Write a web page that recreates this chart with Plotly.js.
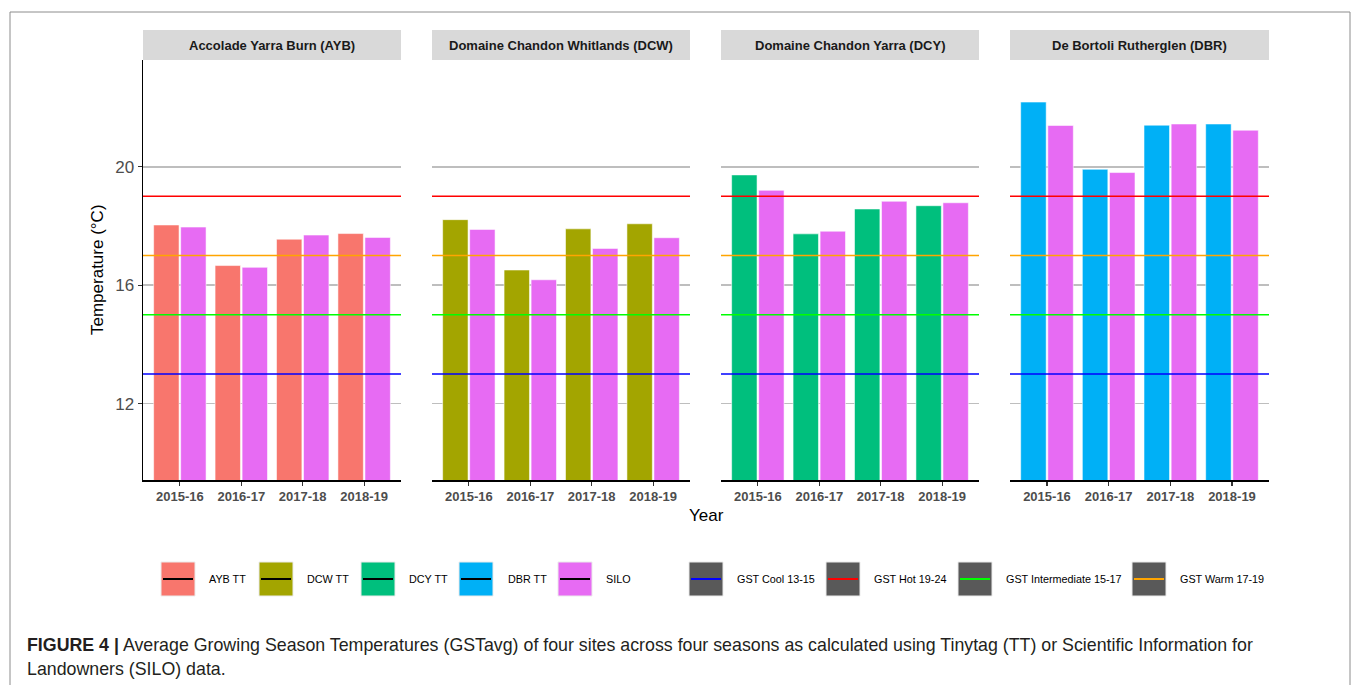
<!DOCTYPE html>
<html>
<head>
<meta charset="utf-8">
<script src="https://cdn.plot.ly/plotly-3.0.1.min.js"></script>
<style>html,body{margin:0;padding:0;background:#fff;}#chart{width:1360px;height:685px;}</style>
</head>
<body>
<div id="chart"></div>
<script>
// ---- data ----
var seasons = ['2015-16', '2016-17', '2017-18', '2018-19'];
var siteCodes = ['AYB', 'DCW', 'DCY', 'DBR'];
var siteNames = ['Accolade Yarra Burn (AYB)', 'Domaine Chandon Whitlands (DCW)', 'Domaine Chandon Yarra (DCY)', 'De Bortoli Rutherglen (DBR)'];
var ttAYB = [18.03, 16.66, 17.55, 17.74];
var siloAYB = [17.96, 16.60, 17.69, 17.61];
var ttDCW = [18.21, 16.51, 17.90, 18.07];
var siloDCW = [17.88, 16.18, 17.24, 17.60];
var ttDCY = [19.72, 17.73, 18.57, 18.68];
var siloDCY = [19.20, 17.82, 18.83, 18.78];
var ttDBR = [22.18, 19.91, 21.40, 21.44];
var siloDBR = [21.39, 19.80, 21.44, 21.23];
var gstNames = ['GST Cool 13-15', 'GST Hot 19-24', 'GST Intermediate 15-17', 'GST Warm 17-19'];
var gstValues = [13, 19, 15, 17];
var yTicks = [12, 16, 20];
var legendLabels = ['AYB TT', 'DCW TT', 'DCY TT', 'DBR TT', 'SILO'];

// ---- styles ----
var siteColors = ['#F8766D', '#A3A500', '#00BF7D', '#00B0F6'];
var siloColor = '#E76BF3';
var gstColors = ['#0000FF', '#FF0000', '#00FF00', '#FFA500'];
var W = 1360, H = 685;
function px(x) { return x / W; }
function py(y) { return 1 - y / H; }
var panelPx = [[143, 401], [432, 690], [721, 979], [1010, 1269]];
var yDom = [py(480), py(60)];
var yRange = [9.42, 23.6];
var FONT = 'Liberation Sans, Arial, sans-serif';

var ttSeries = [ttAYB, ttDCW, ttDCY, ttDBR];
var siloSeries = [siloAYB, siloDCW, siloDCY, siloDBR];

var traces = [];
var layout = {
  width: W, height: H,
  margin: {l: 0, r: 0, t: 0, b: 0},
  paper_bgcolor: '#ffffff', plot_bgcolor: 'rgba(0,0,0,0)',
  barmode: 'group', bargap: 0.12, bargroupgap: 0.06,
  showlegend: false,
  font: {family: FONT},
  shapes: [], annotations: []
};

for (var i = 0; i < 4; i++) {
  var sx = i === 0 ? '' : String(i + 1);
  var xa = 'x' + sx, ya = 'y' + sx;
  traces.push({type: 'bar', x: seasons, y: ttSeries[i], xaxis: xa, yaxis: ya, name: siteCodes[i] + ' TT',
    marker: {color: siteColors[i], line: {color: 'rgba(255,255,255,0.55)', width: 1}}, hoverinfo: 'x+y'});
  traces.push({type: 'bar', x: seasons, y: siloSeries[i], xaxis: xa, yaxis: ya, name: 'SILO',
    marker: {color: siloColor, line: {color: 'rgba(255,255,255,0.55)', width: 1}}, hoverinfo: 'x+y'});

  layout['xaxis' + sx] = {
    domain: [px(panelPx[i][0]), px(panelPx[i][1])], anchor: ya,
    type: 'category', categoryorder: 'array', categoryarray: seasons,
    range: [-0.6, 3.6], fixedrange: true,
    showline: true, linecolor: '#000000', linewidth: 1.5,
    ticks: 'outside', ticklen: 4, tickwidth: 1.2, tickcolor: '#333333',
    tickfont: {family: FONT, size: 13, color: '#4D4D4D', weight: 'bold'},
    showgrid: false, zeroline: false
  };
  layout['yaxis' + sx] = {
    domain: yDom, anchor: xa, range: yRange, fixedrange: true,
    tickmode: 'array', tickvals: yTicks, ticktext: yTicks.map(String),
    showgrid: true, gridcolor: '#BEBEBE', gridwidth: 1.8,
    zeroline: false,
    showline: i === 0, linecolor: '#000000', linewidth: 1.5,
    ticks: i === 0 ? 'outside' : '', ticklen: 4, tickwidth: 1.2, tickcolor: '#333333',
    showticklabels: i === 0,
    tickfont: {family: FONT, size: 17, color: '#4D4D4D'}
  };

  // strip header
  layout.shapes.push({type: 'rect', xref: xa + ' domain', yref: 'paper', x0: 0, x1: 1, y0: py(60), y1: py(30),
    fillcolor: '#D9D9D9', line: {width: 0}, layer: 'below'});
  layout.annotations.push({xref: xa + ' domain', yref: 'paper', x: 0.5, y: py(45), text: siteNames[i],
    showarrow: false, xanchor: 'center', yanchor: 'middle',
    font: {family: FONT, size: 13, color: '#1A1A1A', weight: 'bold'}});

  // GST reference lines
  for (var g = 0; g < gstValues.length; g++) {
    layout.shapes.push({type: 'line', xref: xa + ' domain', yref: ya, x0: 0, x1: 1, y0: gstValues[g], y1: gstValues[g],
      line: {color: gstColors[g], width: 1.6}, layer: 'above'});
  }
}

// axis titles
layout.annotations.push({xref: 'paper', yref: 'paper', x: px(706), y: py(515), text: 'Year', showarrow: false,
  xanchor: 'center', yanchor: 'middle', font: {family: FONT, size: 17, color: '#000000'}});
layout.annotations.push({xref: 'paper', yref: 'paper', x: px(97), y: py(270), text: 'Temperature (°C)', showarrow: false,
  textangle: -90, xanchor: 'center', yanchor: 'middle', font: {family: FONT, size: 17, color: '#000000'}});

// manual legend
var keyX = [161, 259, 361, 459, 558, 689, 826, 958, 1132];
var labX = [207, 305, 407, 506, 604, 735, 872, 1004, 1178];
var keyFill = siteColors.concat([siloColor], ['#595959', '#595959', '#595959', '#595959']);
var keyLine = ['#000000', '#000000', '#000000', '#000000', '#000000'].concat(gstColors);
var keyText = legendLabels.concat(gstNames);
for (var k = 0; k < keyX.length; k++) {
  layout.shapes.push({type: 'rect', xref: 'paper', yref: 'paper', x0: px(keyX[k]), x1: px(keyX[k] + 34),
    y0: py(596), y1: py(562), fillcolor: keyFill[k], line: {color: 'rgba(235,235,235,1)', width: 1}});
  layout.shapes.push({type: 'line', xref: 'paper', yref: 'paper', x0: px(keyX[k] + 2), x1: px(keyX[k] + 32),
    y0: py(579), y1: py(579), line: {color: keyLine[k], width: 2}});
  layout.annotations.push({xref: 'paper', yref: 'paper', x: px(labX[k]), y: py(579), text: keyText[k],
    showarrow: false, xanchor: 'left', yanchor: 'middle', font: {family: FONT, size: 10.8, color: '#000000'}});
}

// caption
layout.annotations.push({xref: 'paper', yref: 'paper', x: px(25), y: py(645),
  text: '<b>FIGURE 4 |</b> Average Growing Season Temperatures (GSTavg) of four sites across four seasons as calculated using Tinytag (TT) or Scientific Information for',
  showarrow: false, xanchor: 'left', yanchor: 'middle', font: {family: FONT, size: 17.8, color: '#231F20'}});
layout.annotations.push({xref: 'paper', yref: 'paper', x: px(25), y: py(669),
  text: 'Landowners (SILO) data.',
  showarrow: false, xanchor: 'left', yanchor: 'middle', font: {family: FONT, size: 17.8, color: '#231F20'}});

// outer frame
layout.shapes.push({type: 'line', xref: 'paper', yref: 'paper', x0: px(10), x1: px(1350), y0: py(12), y1: py(12), line: {color: '#8C8C8C', width: 1}});
layout.shapes.push({type: 'line', xref: 'paper', yref: 'paper', x0: px(10), x1: px(10), y0: py(12), y1: 0, line: {color: '#8C8C8C', width: 1}});
layout.shapes.push({type: 'line', xref: 'paper', yref: 'paper', x0: px(1350), x1: px(1350), y0: py(12), y1: 0, line: {color: '#8C8C8C', width: 1}});

Plotly.newPlot('chart', traces, layout, {displayModeBar: false, staticPlot: true});
</script>
</body>
</html>
